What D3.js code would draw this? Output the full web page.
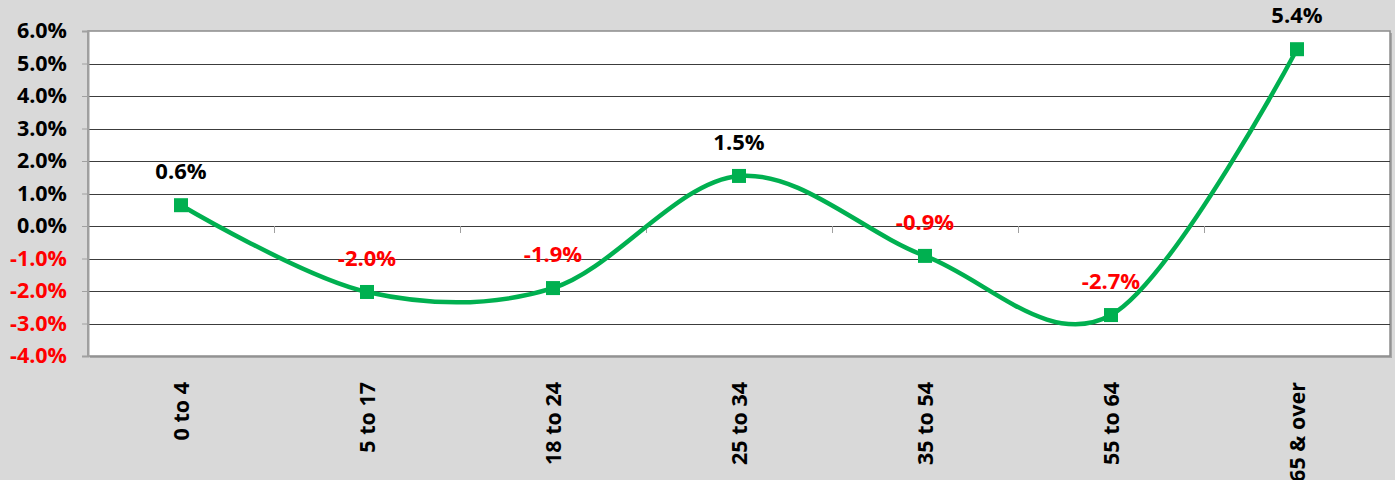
<!DOCTYPE html>
<html><head><meta charset="utf-8">
<script src="https://cdn.jsdelivr.net/npm/d3@7"></script>
<style>
html,body{margin:0;padding:0;background:#D9D9D9;}
svg{display:block;}
text{font-family:"Open Sans",sans-serif;font-weight:700;}
</style></head>
<body>
<svg id="chart" width="1395" height="480"></svg>
<script>
const categories = ["0 to 4","5 to 17","18 to 24","25 to 34","35 to 54","55 to 64","65 & over"];
const values = [0.64, -2.03, -1.91, 1.54, -0.92, -2.74, 5.44];
const yTicks = [6,5,4,3,2,1,0,-1,-2,-3,-4];

const W = 1395, H = 480;
const m = {left:88, right:5, top:31, bottom:124};
const svg = d3.select("#chart");
svg.append("rect").attr("width",W).attr("height",H).attr("fill","#D9D9D9");

const x = d3.scaleBand().domain(categories).range([m.left, W-m.right]);
const y = d3.scaleLinear().domain([-4,6]).range([H-m.bottom, m.top]);
const pct = d => d3.format(".1f")(d).replace("\u2212","-")+"%";

// plot area
svg.append("rect").attr("x",m.left+2).attr("y",m.top+2)
  .attr("width",W-m.left-m.right).attr("height",H-m.top-m.bottom)
  .attr("fill","#a6a6a6");
svg.append("rect").attr("x",m.left).attr("y",m.top)
  .attr("width",W-m.left-m.right).attr("height",H-m.top-m.bottom)
  .attr("fill","#fff").attr("stroke","#8c8c8c").attr("stroke-width",1.5);

// gridlines
svg.append("g").selectAll("line").data(yTicks.filter(d=>d!==6 && d!==-4)).join("line")
  .attr("x1",m.left).attr("x2",W-m.right)
  .attr("y1",d=>Math.round(y(d))+0.5).attr("y2",d=>Math.round(y(d))+0.5)
  .attr("stroke","#3c3c3c").attr("stroke-width",1);

// y axis
const yAxis = d3.axisLeft(y).tickValues(yTicks).tickSize(6).tickPadding(15).tickFormat(pct);
const gy = svg.append("g").attr("transform",`translate(${m.left},0)`).call(yAxis);
gy.select(".domain").attr("stroke","#a0a0a0").attr("stroke-width",2);
gy.selectAll(".tick line").attr("stroke","#a0a0a0");
gy.selectAll(".tick text").attr("font-size",21.5).attr("font-family","Open Sans")
  .attr("font-weight",700).attr("fill",d=>d<0?"#FF0000":"#000");

// x axis ticks at band boundaries on zero line
const bounds = d3.range(1,categories.length).map(i=>m.left + i*x.bandwidth());
svg.append("g").selectAll("line").data(bounds).join("line")
  .attr("x1",d=>Math.round(d)+0.5).attr("x2",d=>Math.round(d)+0.5)
  .attr("y1",y(0)).attr("y2",y(0)+7).attr("stroke","#a0a0a0");

// x labels
svg.append("g").selectAll("text").data(categories).join("text")
  .attr("transform",d=>`translate(${x(d)+x.bandwidth()/2+8},${H-m.bottom+26}) rotate(-90)`)
  .attr("text-anchor","end").attr("font-size",21.5).attr("fill","#000").text(d=>d);

// line
const pts = categories.map((c,i)=>[x(c)+x.bandwidth()/2, y(values[i])]);
svg.append("path").attr("d", d3.line().curve(d3.curveCatmullRom.alpha(0))(pts))
  .attr("fill","none").attr("stroke","#00B050").attr("stroke-width",4.5);

// markers
svg.append("g").selectAll("rect").data(pts).join("rect")
  .attr("x",d=>d[0]-7).attr("y",d=>d[1]-7).attr("width",14).attr("height",14)
  .attr("fill","#00B050");

// data labels
svg.append("g").selectAll("text").data(values).join("text")
  .attr("x",(d,i)=>pts[i][0]).attr("y",(d,i)=>pts[i][1]-26)
  .attr("text-anchor","middle").attr("font-size",22)
  .attr("fill",d=>d<0?"#FF0000":"#000")
  .text(pct);
</script>
</body></html>
